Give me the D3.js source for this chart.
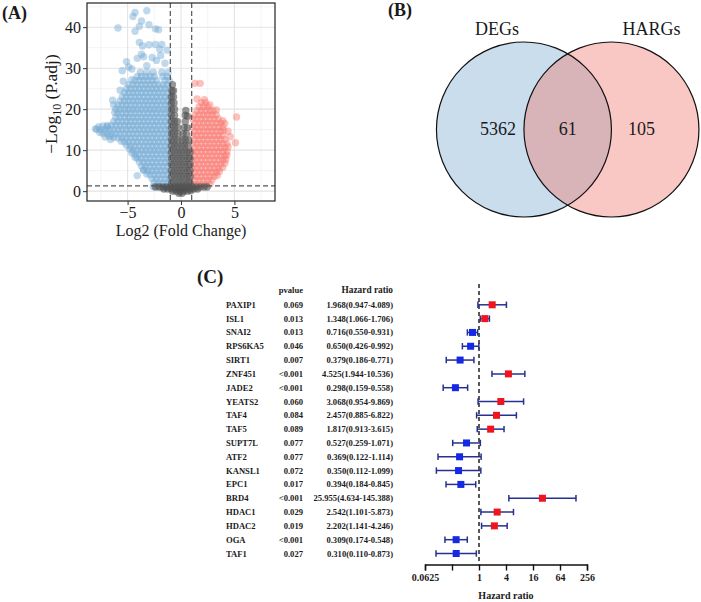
<!DOCTYPE html>
<html><head><meta charset="utf-8">
<script src="https://cdn.jsdelivr.net/npm/d3@7"></script>
<style>body{margin:0;background:#fff}svg{display:block}text{fill:#1a1a1a}</style>
</head><body>
<svg id="c" width="701" height="602"></svg>
<script>
// ---------- DATA ----------
// Volcano (A): [log2FC, -log10 P.adj]
const bluePts = [
[-5.9,39.8],[-4.5,42.6],[-4.3,43.6],[-3.2,44.0],[-3.7,41.5],[-3.0,40.6],[-4.3,39.0],[-3.9,40.2],[-2.4,39.6],[-2.1,39.4],
[-3.9,36.3],[-3.6,35.4],[-3.0,35.7],[-2.4,35.8],[-1.8,35.8],[-1.3,34.4],[-2.0,34.6],[-3.7,33.4],[-5.1,31.6],[-4.6,29.8],
[-4.1,32.4],[-3.5,32.8],[-2.7,32.6],[-2.3,31.9],[-1.9,33.1],[-1.5,31.2],[-5.5,29.4],[-4.9,30.3],[-3.2,30.6],[-6.4,22.2],
[-5.7,24.6],[-5.4,26.8],[-7.7,15.7],[-8.0,15.2],[-6.9,15.7],[-7.1,13.2],[-6.6,12.6],[-3.5,5.1],[-2.6,1.1],[-4.1,3.8],
[-1.1,1],[-1.5,1],[-1.9,1],[-2.2,1.2],
[-1.3,2],[-1.7,2],[-2.1,2],[-2.5,2.1],
[-1.1,3],[-1.5,3],[-1.9,3],[-2.3,3],[-2.7,3],
[-1.3,4],[-1.7,4],[-2.1,4],[-2.5,4],[-2.9,4],[-3.2,4.2],
[-1.1,5],[-1.5,5],[-1.9,5],[-2.3,5],[-2.7,5],[-3.1,5],[-3.5,5.2],
[-1.3,6],[-1.7,6],[-2.1,6],[-2.5,6],[-2.9,6],[-3.3,6],[-3.7,6.1],
[-1.1,7],[-1.5,7],[-1.9,7],[-2.3,7],[-2.7,7],[-3.1,7],[-3.5,7],[-3.9,7.1],
[-1.3,8],[-1.7,8],[-2.1,8],[-2.5,8],[-2.9,8],[-3.3,8],[-3.7,8],[-4.1,8],[-4.3,8.3],
[-1.1,9],[-1.5,9],[-1.9,9],[-2.3,9],[-2.7,9],[-3.1,9],[-3.5,9],[-3.9,9],[-4.3,9],[-4.6,9.3],
[-1.3,10],[-1.7,10],[-2.1,10],[-2.5,10],[-2.9,10],[-3.3,10],[-3.7,10],[-4.1,10],[-4.5,10],[-4.8,10.3],
[-1.1,11],[-1.5,11],[-1.9,11],[-2.3,11],[-2.7,11],[-3.1,11],[-3.5,11],[-3.9,11],[-4.3,11],[-4.7,11],[-5.1,11.2],
[-1.3,12],[-1.7,12],[-2.1,12],[-2.5,12],[-2.9,12],[-3.3,12],[-3.7,12],[-4.1,12],[-4.5,12],[-4.9,12],[-5.3,12],[-5.6,12.2],
[-1.1,13],[-1.5,13],[-1.9,13],[-2.3,13],[-2.7,13],[-3.1,13],[-3.5,13],[-3.9,13],[-4.3,13],[-4.7,13],[-5.1,13],[-5.5,13],[-5.9,13],[-6.3,13.1],[-6.7,13.4],
[-1.3,14],[-1.7,14],[-2.1,14],[-2.5,14],[-2.9,14],[-3.3,14],[-3.7,14],[-4.1,14],[-4.5,14],[-4.9,14],[-5.3,14],[-5.7,14],[-6.1,14],[-6.5,14],[-6.9,14],[-7.3,14.1],[-7.6,14.3],
[-1.1,15],[-1.5,15],[-1.9,15],[-2.3,15],[-2.7,15],[-3.1,15],[-3.5,15],[-3.9,15],[-4.3,15],[-4.7,15],[-5.1,15],[-5.5,15],[-5.9,15],[-6.3,15],[-6.7,15],[-7.1,15],[-7.5,15],[-7.9,15.1],
[-1.3,16],[-1.7,16],[-2.1,16],[-2.5,16],[-2.9,16],[-3.3,16],[-3.7,16],[-4.1,16],[-4.5,16],[-4.9,16],[-5.3,16],[-5.7,16],[-6.1,16],[-6.5,16],[-6.9,16],[-7.3,15.9],
[-1.1,17],[-1.5,17],[-1.9,17],[-2.3,17],[-2.7,17],[-3.1,17],[-3.5,17],[-3.9,17],[-4.3,17],[-4.7,17],[-5.1,17],[-5.5,17],[-5.9,17],[-6.3,17],
[-1.3,18],[-1.7,18],[-2.1,18],[-2.5,18],[-2.9,18],[-3.3,18],[-3.7,18],[-4.1,18],[-4.5,18],[-4.9,18],[-5.3,18],[-5.7,18],[-6.1,18],
[-1.1,19],[-1.5,19],[-1.9,19],[-2.3,19],[-2.7,19],[-3.1,19],[-3.5,19],[-3.9,19],[-4.3,19],[-4.7,19],[-5.1,19],[-5.5,19],[-5.9,19],[-6.2,19.2],
[-1.3,20],[-1.7,20],[-2.1,20],[-2.5,20],[-2.9,20],[-3.3,20],[-3.7,20],[-4.1,20],[-4.5,20],[-4.9,20],[-5.3,20],[-5.7,20],[-6.1,20],
[-1.1,21],[-1.5,21],[-1.9,21],[-2.3,21],[-2.7,21],[-3.1,21],[-3.5,21],[-3.9,21],[-4.3,21],[-4.7,21],[-5.1,21],[-5.5,21],[-5.9,21],[-6.3,21],
[-1.3,22],[-1.7,22],[-2.1,22],[-2.5,22],[-2.9,22],[-3.3,22],[-3.7,22],[-4.1,22],[-4.5,22],[-4.9,22],[-5.3,22],[-5.7,22],
[-1.1,23],[-1.5,23],[-1.9,23],[-2.3,23],[-2.7,23],[-3.1,23],[-3.5,23],[-3.9,23],[-4.3,23],[-4.7,23],[-5.1,23],[-5.5,23],
[-1.3,24],[-1.7,24],[-2.1,24],[-2.5,24],[-2.9,24],[-3.3,24],[-3.7,24],[-4.1,24],[-4.5,24],[-4.9,24],[-5.3,24],
[-1.1,25],[-1.5,25],[-1.9,25],[-2.3,25],[-2.7,25],[-3.1,25],[-3.5,25],[-3.9,25],[-4.3,25],[-4.7,25],[-5.1,25],
[-1.3,26],[-1.7,26],[-2.1,26],[-2.5,26],[-2.9,26],[-3.3,26],[-3.7,26],[-4.1,26],[-4.5,26],[-4.9,26],
[-1.1,27],[-1.5,27],[-2.3,27],[-2.7,27],[-3.1,27],[-3.5,27],[-3.9,27],[-4.3,27],[-4.6,27.2],
[-1.3,28],[-1.7,28],[-2.5,28],[-2.9,28],[-3.3,28],[-3.7,28],[-4.1,28],
[-1.2,29],[-1.8,29],[-2.6,29],[-3.2,29],[-3.8,29]
];
const redPts = [
[1.3,26.3],[1.8,26.3],[5.2,18.1],[4.6,13.3],[5.1,11.8],[4.4,14.6],[3.9,17.2],[2.7,21.0],[1.5,22.5],[2.2,22.3],[3.3,19.8],[4.1,16.5],
[1.1,1.6],[1.5,1.6],[1.9,1.6],[2.3,1.6],[2.7,1.7],
[1.3,2.6],[1.7,2.6],[2.1,2.6],[2.5,2.6],[2.9,2.7],
[1.1,3.6],[1.5,3.6],[1.9,3.6],[2.3,3.6],[2.7,3.6],[3.1,3.6],[3.4,3.8],
[1.3,4.6],[1.7,4.6],[2.1,4.6],[2.5,4.6],[2.9,4.6],[3.3,4.6],[3.6,4.8],
[1.1,5.6],[1.5,5.6],[1.9,5.6],[2.3,5.6],[2.7,5.6],[3.1,5.6],[3.5,5.6],[3.9,5.8],
[1.3,6.6],[1.7,6.6],[2.1,6.6],[2.5,6.6],[2.9,6.6],[3.3,6.6],[3.7,6.6],[4.1,6.8],
[1.1,7.6],[1.5,7.6],[1.9,7.6],[2.3,7.6],[2.7,7.6],[3.1,7.6],[3.5,7.6],[3.9,7.6],[4.2,7.7],
[1.3,8.6],[1.7,8.6],[2.1,8.6],[2.5,8.6],[2.9,8.6],[3.3,8.6],[3.7,8.6],[4.1,8.6],[4.3,8.8],
[1.1,9.6],[1.5,9.6],[1.9,9.6],[2.3,9.6],[2.7,9.6],[3.1,9.6],[3.5,9.6],[3.9,9.6],[4.3,9.6],
[1.3,10.6],[1.7,10.6],[2.1,10.6],[2.5,10.6],[2.9,10.6],[3.3,10.6],[3.7,10.6],[4.1,10.6],[4.4,10.8],
[1.1,11.6],[1.5,11.6],[1.9,11.6],[2.3,11.6],[2.7,11.6],[3.1,11.6],[3.5,11.6],[3.9,11.6],[4.3,11.6],
[1.3,12.6],[1.7,12.6],[2.1,12.6],[2.5,12.6],[2.9,12.6],[3.3,12.6],[3.7,12.6],[4.1,12.6],
[1.1,13.6],[1.5,13.6],[1.9,13.6],[2.3,13.6],[2.7,13.6],[3.1,13.6],[3.5,13.6],[3.9,13.6],
[1.3,14.6],[1.7,14.6],[2.1,14.6],[2.5,14.6],[2.9,14.6],[3.3,14.6],[3.7,14.6],[4.0,14.8],
[1.1,15.6],[1.5,15.6],[1.9,15.6],[2.3,15.6],[2.7,15.6],[3.1,15.6],[3.5,15.6],[3.9,15.6],
[1.3,16.6],[1.7,16.6],[2.1,16.6],[2.5,16.6],[2.9,16.6],[3.3,16.6],[3.7,16.6],
[1.1,17.6],[1.5,17.6],[1.9,17.6],[2.3,17.6],[2.7,17.6],[3.1,17.6],[3.5,17.6],
[1.3,18.6],[1.7,18.6],[2.1,18.6],[2.5,18.6],[2.9,18.6],[3.3,18.6],
[1.5,19.6],[1.9,19.6],[2.3,19.6],[2.7,19.6],[3.0,19.6],
[1.7,20.6],[2.1,20.6],[2.5,20.6],
[1.9,21.6],[2.3,21.6]
];
const greyPts = [
[-0.2,-0.5],[0.1,-0.5],
[-0.8,0],[-0.45,0],[-0.1,0],[0.25,0],[0.6,0],[0.9,0.1],
[-1.6,0.5],[-1.25,0.5],[-0.9,0.5],[-0.55,0.5],[-0.2,0.5],[0.15,0.5],[0.5,0.5],[0.85,0.5],[1.2,0.5],[1.55,0.5],
[-2.4,1.0],[-2.05,1.0],[-1.7,1.0],[-1.35,1.0],[-1.0,1.0],[-0.65,1.0],[-0.3,1.0],[0.05,1.0],[0.4,1.0],[0.75,1.0],[1.1,1.0],[1.45,1.0],[1.8,1.0],[2.15,1.0],[2.45,1.0],
[-0.9,2.0],[-0.6,2.0],[-0.3,2.0],[0,2.0],[0.3,2.0],[0.6,2.0],[0.85,2.0],
[-0.9,3.5],[-0.6,3.5],[-0.3,3.5],[0,3.5],[0.3,3.5],[0.6,3.5],[0.85,3.5],
[-0.9,5.0],[-0.6,5.0],[-0.3,5.0],[0,5.0],[0.3,5.0],[0.6,5.0],[0.85,5.0],
[-0.9,6.5],[-0.6,6.5],[-0.3,6.5],[0,6.5],[0.3,6.5],[0.6,6.5],[0.85,6.5],
[-0.9,8.0],[-0.6,8.0],[-0.3,8.0],[0,8.0],[0.3,8.0],[0.6,8.0],[0.85,8.0],
[-0.9,9.5],[-0.6,9.5],[-0.3,9.5],[0,9.5],[0.3,9.5],[0.6,9.5],[0.85,9.5],
[-0.9,11.0],[-0.6,11.0],[-0.3,11.0],[0.05,11.0],[0.35,11.0],[0.65,11.0],
[-0.9,12.5],[-0.6,12.5],[-0.3,12.5],[0.1,12.5],[0.4,12.5],[0.7,12.5],
[-0.9,14.0],[-0.6,14.0],[-0.3,14.0],[0.2,14.0],[0.5,14.0],
[-0.9,15.5],[-0.6,15.5],[-0.3,15.5],[0.3,15.5],[0.6,15.5],
[-0.9,17.0],[-0.6,17.0],[-0.35,17.0],[0.4,17.0],
[-0.9,18.5],[-0.6,18.5],[0.4,18.5],[0.6,18.3],[0.45,19.7],
[-0.9,20.0],[-0.6,20.0],[-0.9,21.5],[-0.65,21.5],[-0.9,23.0],[-0.7,23.0],[-0.85,24.5],[-0.7,24.5],[-0.8,26.0]
];
const volXTicks = [-5, 0, 5];
const volYTicks = [0, 10, 20, 30, 40];
const fcCut = [-1, 1];
const padjCut = 1.3;

// Venn (B)
const vennSets = ["DEGs", "HARGs"];
const vennCounts = [5362, 61, 105]; // only DEGs, both, only HARGs

// Forest (C)
const genes = ["PAXIP1","ISL1","SNAI2","RPS6KA5","SIRT1","ZNF451","JADE2","YEATS2","TAF4","TAF5","SUPT7L","ATF2","KANSL1","EPC1","BRD4","HDAC1","HDAC2","OGA","TAF1"];
const pvals = ["0.069","0.013","0.013","0.046","0.007","<0.001","<0.001","0.060","0.084","0.089","0.077","0.077","0.072","0.017","<0.001","0.029","0.019","<0.001","0.027"];
const hr = [1.968,1.348,0.716,0.650,0.379,4.525,0.298,3.068,2.457,1.817,0.527,0.369,0.350,0.394,25.955,2.542,2.202,0.309,0.310];
const hrLow = [0.947,1.066,0.550,0.426,0.186,1.944,0.159,0.954,0.885,0.913,0.259,0.122,0.112,0.184,4.634,1.101,1.141,0.174,0.110];
const hrHigh = [4.089,1.706,0.931,0.992,0.771,10.536,0.558,9.869,6.822,3.615,1.071,1.114,1.099,0.845,145.388,5.873,4.246,0.548,0.873];
const hrTicks = [0.0625,0.25,1,4,16,64,256];
const hrTickLabels = ["0.0625","","1","4","16","64","256"];

// ---------- DRAW ----------
const svg = d3.select("#c");
const SERIF = "'Liberation Serif','Times New Roman',Times,serif";
svg.append("rect").attr("width",701).attr("height",602).attr("fill","#fff");

// ===== Panel A =====
const A = {l:87, r:275, t:3, b:201};
const xV = d3.scaleLinear().domain([-8.8,8.8]).range([A.l,A.r]);
const yV = d3.scaleLinear().domain([-2.4,45.9]).range([A.b,A.t]);
const gA = svg.append("g");
const minorX = [-7.5,-2.5,2.5,7.5], minorY = [5,15,25,35,45];
gA.selectAll(".mx").data(minorX).join("line").attr("x1",d=>xV(d)).attr("x2",d=>xV(d)).attr("y1",A.t).attr("y2",A.b).attr("stroke","#EFEFEF").attr("stroke-width",0.7);
gA.selectAll(".my").data(minorY).join("line").attr("y1",d=>yV(d)).attr("y2",d=>yV(d)).attr("x1",A.l).attr("x2",A.r).attr("stroke","#EFEFEF").attr("stroke-width",0.7);
gA.selectAll(".gx").data(volXTicks).join("line").attr("x1",d=>xV(d)).attr("x2",d=>xV(d)).attr("y1",A.t).attr("y2",A.b).attr("stroke","#E3E3E3").attr("stroke-width",1.1);
gA.selectAll(".gy").data(volYTicks).join("line").attr("y1",d=>yV(d)).attr("y2",d=>yV(d)).attr("x1",A.l).attr("x2",A.r).attr("stroke","#E3E3E3").attr("stroke-width",1.1);
const R = 3.7;
gA.append("g").selectAll("circle").data(bluePts).join("circle").attr("cx",d=>xV(d[0])).attr("cy",d=>yV(d[1])).attr("r",R).attr("fill","#72A8D3").attr("fill-opacity",0.45);
gA.append("g").selectAll("circle").data(redPts).join("circle").attr("cx",d=>xV(d[0])).attr("cy",d=>yV(d[1])).attr("r",R).attr("fill","#F8766D").attr("fill-opacity",0.45);
gA.append("g").selectAll("circle").data(greyPts).join("circle").attr("cx",d=>xV(d[0])).attr("cy",d=>yV(d[1])).attr("r",R).attr("fill","#505050").attr("fill-opacity",0.6);
gA.selectAll(".vl").data(fcCut).join("line").attr("x1",d=>xV(d)).attr("x2",d=>xV(d)).attr("y1",A.t).attr("y2",A.b).attr("stroke","#555").attr("stroke-width",1.2).attr("stroke-dasharray","5,3");
gA.append("line").attr("x1",A.l).attr("x2",A.r).attr("y1",yV(padjCut)).attr("y2",yV(padjCut)).attr("stroke","#555").attr("stroke-width",1.2).attr("stroke-dasharray","5,3");
gA.append("rect").attr("x",A.l).attr("y",A.t).attr("width",A.r-A.l).attr("height",A.b-A.t).attr("fill","none").attr("stroke","#222").attr("stroke-width",1.2);
const axL = gA.append("g").attr("transform",`translate(${A.l},0)`).call(d3.axisLeft(yV).tickValues(volYTicks).tickSize(4).tickPadding(2));
const axB = gA.append("g").attr("transform",`translate(0,${A.b})`).call(d3.axisBottom(xV).tickValues(volXTicks).tickSize(4).tickPadding(2).tickFormat(d=>d<0?"\u2212"+Math.abs(d):d));
[axL,axB].forEach(a=>{a.select(".domain").remove();a.selectAll("line").attr("stroke","#333");a.selectAll("text").attr("font-family",SERIF).attr("font-size",16).attr("fill","#1a1a1a");});
gA.append("text").attr("x",(A.l+A.r)/2).attr("y",236).attr("text-anchor","middle").attr("font-family",SERIF).attr("font-size",16).attr("fill","#1a1a1a").text("Log2 (Fold Change)");
const ylg = gA.append("g").attr("transform",`translate(57,${(A.t+A.b)/2 + 2}) rotate(-90)`);
const yl = ylg.append("text").attr("x",0).attr("y",0).attr("text-anchor","middle").attr("font-family",SERIF).attr("font-size",17.5).attr("fill","#1a1a1a").style("fill","#1a1a1a");
yl.append("tspan").text("\u2212Log");
yl.append("tspan").attr("font-size",12).attr("dy",4).text("10");
yl.append("tspan").attr("dy",-4).text(" (P.adj)");
svg.append("text").attr("x",2).attr("y",19).attr("font-family",SERIF).attr("font-weight","bold").attr("font-size",18).text("(A)");

// ===== Panel B =====
const vR = 87.5, vCy = 129.5, vCx = 567.7, vD = 87.5;
const centers = [vCx - vD/2, vCx + vD/2];
const gB = svg.append("g");
gB.append("circle").attr("cx",centers[0]).attr("cy",vCy).attr("r",vR).attr("fill","#C9DDEC");
gB.append("circle").attr("cx",centers[1]).attr("cy",vCy).attr("r",vR).attr("fill","#F26E64").attr("fill-opacity",0.38);
centers.forEach(c=>gB.append("circle").attr("cx",c).attr("cy",vCy).attr("r",vR).attr("fill","none").attr("stroke","#111").attr("stroke-width",1.2));
gB.selectAll(".sl").data(vennSets).join("text").attr("x",(d,i)=>i===0?centers[0]-27:centers[1]+40).attr("y",35).attr("text-anchor","middle").attr("font-family",SERIF).attr("font-size",18).text(d=>d);
const cntX = [centers[0]-26, vCx, centers[1]+30];
gB.selectAll(".cn").data(vennCounts).join("text").attr("x",(d,i)=>cntX[i]).attr("y",vCy+5).attr("text-anchor","middle").attr("font-family",SERIF).attr("font-size",18).text(d=>d);
svg.append("text").attr("x",388).attr("y",16).attr("font-family",SERIF).attr("font-weight","bold").attr("font-size",18).text("(B)");

// ===== Panel C =====
const gC = svg.append("g");
const xF = d3.scaleLog().base(2).domain([0.0625,256]).range([425,587]);
const yF = d3.scalePoint().domain(genes).range([304.8,553.5]);
svg.append("text").attr("x",197).attr("y",283).attr("font-family",SERIF).attr("font-weight","bold").attr("font-size",19).text("(C)");
const tf = {"font-family":SERIF,"font-weight":"bold","font-size":8.6};
function styleT(s){Object.entries(tf).forEach(([k,v])=>s.attr(k,v));return s;}
styleT(gC.append("text").attr("x",303).attr("y",293).attr("text-anchor","end").text("pvalue"));
styleT(gC.append("text").attr("x",393).attr("y",293).attr("text-anchor","end").text("Hazard ratio")).attr("font-size",9.3);
styleT(gC.selectAll(".gn").data(genes).join("text").attr("x",226).attr("y",d=>yF(d)+3).text(d=>d));
styleT(gC.selectAll(".pv").data(genes).join("text").attr("x",303).attr("y",d=>yF(d)+3).attr("text-anchor","end").text((d,i)=>pvals[i]));
styleT(gC.selectAll(".hv").data(genes).join("text").attr("x",393).attr("y",d=>yF(d)+3).attr("text-anchor","end").text((d,i)=>`${hr[i].toFixed(3)}(${hrLow[i].toFixed(3)}-${hrHigh[i].toFixed(3)})`));
gC.append("line").attr("x1",xF(1)).attr("x2",xF(1)).attr("y1",284).attr("y2",564).attr("stroke","#222").attr("stroke-width",1.5).attr("stroke-dasharray","4,3");
const navy = "#26318F";
const rows = gC.selectAll(".row").data(genes).join("g").attr("transform",d=>`translate(0,${yF(d)})`);
rows.append("line").attr("x1",(d,i)=>xF(hrLow[i])).attr("x2",(d,i)=>xF(hrHigh[i])).attr("stroke",navy).attr("stroke-width",1.5);
rows.append("line").attr("x1",(d,i)=>xF(hrLow[i])).attr("x2",(d,i)=>xF(hrLow[i])).attr("y1",-3.2).attr("y2",3.2).attr("stroke",navy).attr("stroke-width",1.5);
rows.append("line").attr("x1",(d,i)=>xF(hrHigh[i])).attr("x2",(d,i)=>xF(hrHigh[i])).attr("y1",-3.2).attr("y2",3.2).attr("stroke",navy).attr("stroke-width",1.5);
rows.append("rect").attr("x",(d,i)=>xF(hr[i])-3.5).attr("y",-3.5).attr("width",7).attr("height",7).attr("fill",(d,i)=>hr[i]>1?"#F0141E":"#1428E6");
const axF = gC.append("g").attr("transform","translate(0,564.5)").call(d3.axisBottom(xF).tickValues(hrTicks).tickSize(6).tickPadding(3).tickFormat((d,i)=>hrTickLabels[i]));
axF.select(".domain").attr("stroke","#111").attr("stroke-width",1.4);
axF.selectAll("line").attr("stroke","#111").attr("stroke-width",1.4);
axF.selectAll("text").attr("font-family",SERIF).attr("font-weight","bold").attr("font-size",10).attr("fill","#111");
gC.append("text").attr("x",506).attr("y",599).attr("text-anchor","middle").attr("font-family",SERIF).attr("font-weight","bold").attr("font-size",10).text("Hazard ratio");
</script>
</body></html>
